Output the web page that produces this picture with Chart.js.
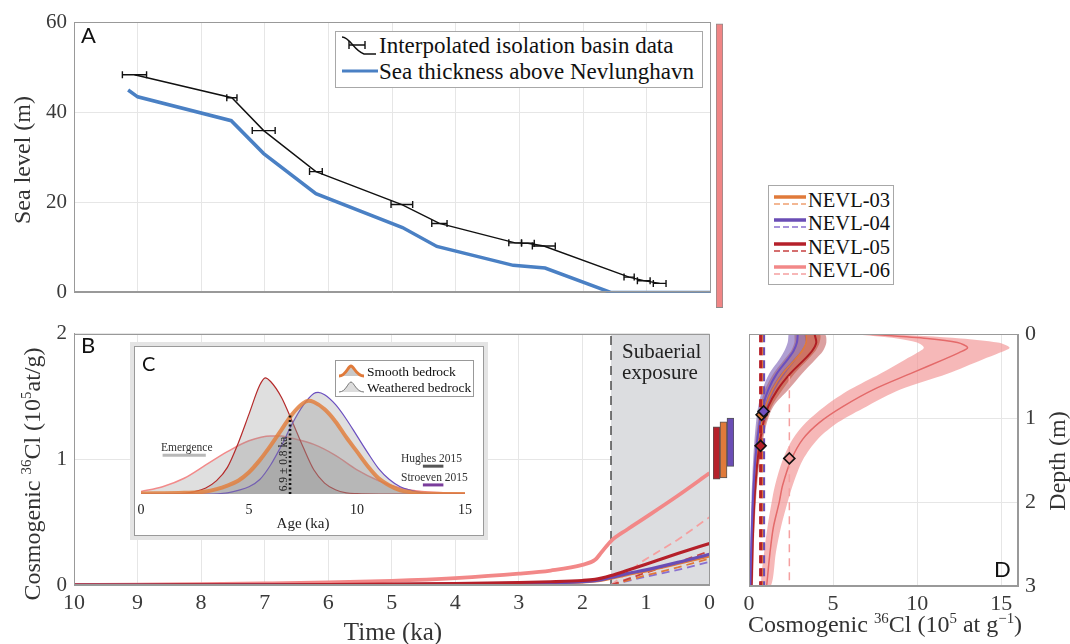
<!DOCTYPE html>
<html>
<head>
<meta charset="utf-8">
<script src="https://cdn.jsdelivr.net/npm/chart.js@4.4.1/dist/chart.umd.min.js"></script>
<style>
body { margin: 0; background: #fff; }
#wrap { position: relative; width: 1070px; height: 644px; overflow: hidden; background: #fff;
        font-family: "Liberation Serif", "DejaVu Serif", serif; color: #333; }
canvas { position: absolute; }
.lbl { position: absolute; font-family: Lato, "Open Sans", sans-serif; color: #111; line-height: 1; }
.t { position: absolute; white-space: nowrap; line-height: 1; font-family: "Liberation Serif", serif; }
.mid { transform: translate(-50%, -50%); }
.rot { transform: translate(-50%, -50%) rotate(-90deg); }
.t sup { font-size: 0.62em; vertical-align: 0.6em; line-height: 0; }
.legend { position: absolute; background: #fff; border: 1px solid #a8a8a8; box-sizing: border-box; }
.row { position: absolute; white-space: nowrap; line-height: 1; color: #111; font-family: "Liberation Serif", serif; }
.row svg { position: absolute; }
#insetFrame { position: absolute; left: 134px; top: 346px; width: 350px; height: 190px; box-sizing: border-box;
              border: 1px solid #9a9a9a; background: #fff; box-shadow: 0 0 0 4px #e4e4e4; }
</style>
</head>
<body>
<div id="wrap">
  <canvas id="chartA" width="716" height="312" style="left:0;top:0"></canvas>
  <canvas id="barA" width="7" height="312" style="left:716px;top:0"></canvas>
  <canvas id="chartB" width="720" height="330" style="left:0;top:314px"></canvas>
  <canvas id="barB" width="21" height="330" style="left:713px;top:314px"></canvas>
  <canvas id="chartD" width="335" height="330" style="left:735px;top:314px"></canvas>
  <div id="insetFrame"></div>
  <canvas id="chartC" width="348" height="188" style="left:135px;top:347px"></canvas>

  <!-- panel letters -->
  <div class="lbl" style="left:81px;top:24px;font-size:22px">A</div>
  <div class="lbl" style="left:81px;top:334px;font-size:22px">B</div>
  <div class="lbl" style="left:142px;top:353px;font-size:20px">C</div>
  <div class="lbl" style="left:994px;top:558px;font-size:22px">D</div>

  <!-- axis titles -->
  <div class="t rot" style="left:22px;top:160px;font-size:24px">Sea level (m)</div>
  <div class="t rot" style="left:32px;top:474px;font-size:24px">Cosmogenic <sup>36</sup>Cl (10<sup>5</sup>at/g)</div>
  <div class="t mid" style="left:393px;top:631px;font-size:25px">Time (ka)</div>
  <div class="t mid" style="left:885px;top:624px;font-size:24px">Cosmogenic <sup>36</sup>Cl (10<sup>5</sup> at g<sup>&minus;1</sup>)</div>
  <div class="t rot" style="left:1057px;top:461px;font-size:24px">Depth (m)</div>

  <div class="t" style="left:622px;top:341px;font-size:21px;line-height:21px;color:#222">Subaerial<br>exposure</div>

  <!-- inset texts -->
  <div class="t mid" style="left:303px;top:523px;font-size:15px;color:#222">Age (ka)</div>
  <div class="t rot" style="left:284px;top:464px;font-size:11.5px;color:#222">6.9 &plusmn; 0.8 ka</div>
  <div class="t" style="left:161px;top:442px;font-size:11.5px;color:#333">Emergence</div>
  <div class="t" style="left:401px;top:453px;font-size:11.5px;color:#333">Hughes 2015</div>
  <div class="t" style="left:401px;top:472px;font-size:11.5px;color:#333">Stroeven 2015</div>

  <!-- legend A -->
  <div class="legend" style="left:335px;top:31px;width:368px;height:57px">
    <div class="row" style="left:0;top:2px;height:24px;width:366px">
      <svg width="40" height="24" style="left:4px;top:0">
        <path d="M2 3 C 10 3, 14 17, 24 20 L 36 20" stroke="#111" stroke-width="1.4" fill="none"/>
        <path d="M9 11 H 25 M9 7 V 15 M25 7 V 15" stroke="#111" stroke-width="1.4" fill="none"/>
      </svg>
      <span style="position:absolute;left:43px;top:0px;font-size:23px">Interpolated isolation basin data</span>
    </div>
    <div class="row" style="left:0;top:28px;height:24px;width:366px">
      <svg width="40" height="24" style="left:4px;top:0"><path d="M2 11 H 38" stroke="#4a80c4" stroke-width="3"/></svg>
      <span style="position:absolute;left:43px;top:0px;font-size:23px">Sea thickness above Nevlunghavn</span>
    </div>
  </div>

  <!-- NEVL legend -->
  <div class="legend" style="left:768px;top:185px;width:126px;height:100px" id="nevlLegend"></div>

  <!-- inset legend -->
  <div class="legend" style="left:335px;top:360px;width:139px;height:37px;border-color:#999">
    <div class="row" style="left:0;top:2px">
      <svg width="30" height="16" style="left:2px;top:0">
        <path d="M1 13 C 8 13, 10 3, 13 3 C 16 3, 18 13, 26 13 Z" fill="#c8c8c8"/>
        <path d="M1 13 C 8 13, 10 3, 13 3 C 16 3, 18 13, 26 13" stroke="#e07a3a" stroke-width="3" fill="none"/>
      </svg>
      <span style="position:absolute;left:31px;top:2px;font-size:13.5px">Smooth&nbsp;bedrock</span>
    </div>
    <div class="row" style="left:0;top:18px">
      <svg width="30" height="16" style="left:2px;top:0">
        <path d="M1 13 C 8 13, 10 3, 13 3 C 16 3, 18 13, 26 13 Z" fill="#dcdcdc"/>
        <path d="M1 13 C 8 13, 10 3, 13 3 C 16 3, 18 13, 26 13" stroke="#777" stroke-width="1" fill="none"/>
      </svg>
      <span style="position:absolute;left:31px;top:2px;font-size:13.5px">Weathered&nbsp;bedrock</span>
    </div>
  </div>
</div>

<script>
// ============ DATA ============
// Panel A: sea level history (ka, m)
const basinAge   = [9.05, 7.52, 7.02, 6.2, 4.85, 4.26, 3.07, 2.87, 2.62, 1.28, 1.05, 0.8];
const basinLevel = [48.3, 43.2, 35.9, 26.8, 19.5, 15.3, 11.0, 10.9, 10.3, 3.4, 2.6, 2.0];
const basinErr   = [0.19, 0.08, 0.18, 0.1, 0.17, 0.12, 0.1, 0.1, 0.18, 0.08, 0.1, 0.1];
const blueAge    = [9.15, 9.0, 7.53, 7.02, 6.2, 4.84, 4.3, 3.1, 2.6, 1.57, 0];
const blueLevel  = [44.9, 43.4, 38.1, 30.8, 21.9, 14.4, 10.2, 6.0, 5.4, 0, 0];
const sideBarRange = [-1, 59.6];

// Panel B: 36Cl build-up through time (ka, 1e5 at/g)
const exposureStart = 1.55;
const timeB   = [10, 9, 8, 7, 6, 5, 4, 3, 2.5, 2, 1.8, 1.7, 1.55, 1.3, 1, 0.5, 0];
const pinkB   = [0, 0.002, 0.006, 0.012, 0.02, 0.033, 0.055, 0.09, 0.115, 0.16, 0.2, 0.26, 0.35, 0.44, 0.54, 0.71, 0.89];
const redB    = [0, 0, 0.001, 0.002, 0.004, 0.007, 0.012, 0.02, 0.026, 0.036, 0.045, 0.055, 0.075, 0.115, 0.165, 0.25, 0.33];
const purpleB = [0, 0, 0, 0.001, 0.002, 0.004, 0.008, 0.014, 0.019, 0.027, 0.035, 0.043, 0.06, 0.09, 0.12, 0.18, 0.245];
const orangeB = [0, 0, 0, 0.001, 0.002, 0.004, 0.007, 0.012, 0.017, 0.024, 0.031, 0.038, 0.053, 0.082, 0.112, 0.17, 0.23];
const timeDash      = [1.55, 1.05, 0.5, 0];
const pinkDashB     = [0, 0.19, 0.36, 0.54];
const redDashB      = [0, 0.09, 0.18, 0.27];
const orangeDashB   = [0, 0.07, 0.14, 0.21];
const purpleDashB   = [0, 0.06, 0.12, 0.185];
const sampleBarLo = [0.83, 0.84, 0.93];
const sampleBarHi = [1.24, 1.28, 1.31];

// Panel C: age probability curves (ka, relative)
const redAge    = [0, 1, 2, 2.5, 3, 3.5, 4, 4.5, 5, 5.5, 5.75, 6, 6.5, 7, 7.5, 8, 8.5, 9, 9.5, 10, 11, 15];
const redProb   = [0, 0, 0.005, 0.02, 0.05, 0.11, 0.22, 0.42, 0.66, 0.9, 0.96, 0.93, 0.8, 0.6, 0.39, 0.2, 0.09, 0.035, 0.01, 0.003, 0, 0];
const purpleAge  = [0, 3, 4, 4.5, 5, 5.5, 6, 6.5, 7, 7.5, 8, 8.2, 8.5, 9, 9.5, 10, 10.5, 11, 11.5, 12, 12.5, 13, 14, 15];
const purpleProb = [0, 0, 0.01, 0.03, 0.06, 0.12, 0.24, 0.4, 0.58, 0.73, 0.83, 0.84, 0.82, 0.74, 0.62, 0.48, 0.34, 0.21, 0.12, 0.06, 0.03, 0.01, 0, 0];
const orangeAge  = [0, 2, 3, 3.5, 4, 4.5, 5, 5.5, 6, 6.5, 7, 7.5, 7.75, 8, 8.5, 9, 9.5, 10, 10.5, 11, 11.5, 12, 12.5, 13, 15];
const orangeProb = [0.005, 0.01, 0.02, 0.04, 0.07, 0.11, 0.18, 0.28, 0.4, 0.53, 0.66, 0.75, 0.77, 0.76, 0.7, 0.6, 0.47, 0.35, 0.23, 0.13, 0.07, 0.03, 0.015, 0.005, 0];
const pinkAge  = [0, 1, 2, 3, 4, 5, 6, 6.5, 7, 8, 9, 10, 11, 12, 13, 14, 15];
const pinkProb = [0.02, 0.06, 0.13, 0.24, 0.35, 0.44, 0.48, 0.48, 0.46, 0.41, 0.32, 0.2, 0.11, 0.05, 0.02, 0.01, 0.005];
const meanAge = 6.9, meanAgeTop = 0.66;
const emergenceRange = [1.0, 3.0], emergenceY = 0.32;
const hughesRange = [13.05, 14.0], hughesY = 0.23;
const stroevenRange = [13.05, 14.0], stroevenY = 0.075;

// Panel D: depth profiles (depth m, 1e5 at/g)
const pinkDepth = [0, 0.05, 0.1, 0.16, 0.22, 0.3, 0.47, 0.66, 0.86, 1.05, 1.25, 1.5, 1.8, 2.0, 2.3, 2.6, 3.0];
const pinkLo    = [6.3, 8.8, 10.0, 10.4, 10.0, 9.3, 7.8, 6.0, 4.5, 3.4, 2.6, 2.0, 1.55, 1.35, 1.1, 0.9, 0.75];
const pinkMid   = [7.2, 10.6, 12.4, 13.0, 12.5, 11.6, 9.6, 7.4, 5.6, 4.2, 3.2, 2.5, 2.0, 1.8, 1.45, 1.25, 1.05];
const pinkHi    = [8.2, 12.6, 14.8, 15.5, 14.9, 13.9, 11.8, 9.0, 7.0, 5.3, 4.1, 3.2, 2.6, 2.3, 1.9, 1.6, 1.3];
const depthD    = [0, 0.1, 0.2, 0.3, 0.47, 0.66, 0.86, 1.05, 1.3, 1.6, 2.0, 2.5, 3.0];
const purpleLo  = [2.35, 2.3, 2.1, 1.8, 1.2, 0.8, 0.55, 0.42, 0.31, 0.22, 0.14, 0.08, 0.04];
const purpleMid = [2.9, 2.85, 2.65, 2.3, 1.65, 1.15, 0.82, 0.64, 0.47, 0.34, 0.23, 0.14, 0.08];
const purpleHi  = [3.4, 3.35, 3.15, 2.8, 2.15, 1.55, 1.12, 0.88, 0.65, 0.47, 0.32, 0.21, 0.13];
const redLo     = [3.3, 3.35, 3.1, 2.65, 1.9, 1.3, 0.9, 0.66, 0.5, 0.36, 0.24, 0.15, 0.1];
const redMid    = [3.9, 4.0, 3.75, 3.3, 2.45, 1.7, 1.15, 0.86, 0.64, 0.46, 0.32, 0.22, 0.16];
const redHi     = [4.5, 4.6, 4.4, 3.95, 3.15, 2.35, 1.45, 1.07, 0.8, 0.58, 0.41, 0.29, 0.22];
const orangeLo  = [2.7, 2.7, 2.5, 2.1, 1.45, 0.95, 0.68, 0.52, 0.38, 0.27, 0.18, 0.11, 0.06];
const orangeMid = [3.4, 3.4, 3.15, 2.75, 2.0, 1.4, 0.98, 0.75, 0.55, 0.4, 0.27, 0.18, 0.12];
const orangeHi  = [4.2, 4.2, 3.95, 3.5, 2.7, 2.0, 1.35, 1.0, 0.74, 0.54, 0.37, 0.25, 0.18];
// samples in order NEVL-03, 04, 05, 06
const sampleNames  = ['NEVL-03', 'NEVL-04', 'NEVL-05', 'NEVL-06'];
const measuredConc = [0.75, 0.87, 0.69, 2.4];
const sampleDepth  = [0.96, 0.92, 1.33, 1.48];
const dashTop      = [0, 0, 0, 0.5];

// ============ COLOURS ============
const C = {
  orange: '#e07a3a', purple: '#6a4db5', red: '#b5202a', pink: '#f28888',
  orangeDash: '#f0a070', purpleDash: '#8a70d0', redDash: '#c84040', pinkDash: '#f5a0a0'
};
const serif = '"Liberation Serif", "DejaVu Serif", serif';

Chart.defaults.font.family = serif;
Chart.defaults.color = '#3a3a3a';
Chart.defaults.animation = false;
Chart.defaults.plugins.legend.display = false;
Chart.defaults.plugins.tooltip.enabled = false;
Chart.defaults.elements.point.radius = 0;
Chart.defaults.elements.line.borderWidth = 2;

const zip = (xs, ys) => xs.map((x, i) => ({ x: x, y: ys[i] }));
const zipDepth = (xs, ds) => xs.map((x, i) => ({ x: x, y: ds[i] }));

// frame round the plot area (MATLAB box)
const framePlugin = {
  id: 'frame',
  afterDatasetsDraw(chart, args, opts) {
    const a = chart.chartArea, ctx = chart.ctx;
    ctx.save();
    ctx.strokeStyle = opts.color || '#999';
    ctx.lineWidth = 1;
    ctx.strokeRect(Math.round(a.left) + 0.5, Math.round(a.top) + 0.5, Math.round(a.width) - 1, Math.round(a.height) - 1);
    ctx.restore();
  }
};

const gridCol = '#e6e6e6';

// ============ PANEL A ============
const errPts = [];
basinAge.forEach((a, i) => {
  errPts.push({ x: a - basinErr[i], y: basinLevel[i] }, { x: a + basinErr[i], y: basinLevel[i] }, { x: NaN, y: NaN });
});

new Chart(document.getElementById('chartA'), {
  type: 'line',
  data: {
    datasets: [
      { data: errPts, borderColor: '#111', borderWidth: 1.4, pointStyle: 'line', pointRotation: 90,
        pointRadius: 3.5, pointBorderColor: '#111', pointBorderWidth: 1.4 },
      { data: zip(basinAge, basinLevel), borderColor: '#111', borderWidth: 1.4 },
      { data: zip(blueAge, blueLevel), borderColor: '#4a80c4', borderWidth: 3.5 }
    ]
  },
  options: {
    responsive: false,
    layout: { padding: { top: 22, right: 5 } },
    scales: {
      x: { type: 'linear', reverse: true, min: 0, max: 10,
           ticks: { display: false, stepSize: 1 },
           grid: { color: gridCol, drawTicks: false }, border: { color: '#999' },
           afterFit: s => { s.height = 9; } },
      y: { min: 0, max: 60,
           ticks: { stepSize: 20, padding: 7, font: { size: 21, family: serif } },
           grid: { color: gridCol, drawTicks: false }, border: { color: '#999' },
           afterFit: s => { s.width = 74; } }
    },
    plugins: { frame: { color: '#999' } }
  },
  plugins: [framePlugin]
});

new Chart(document.getElementById('barA'), {
  type: 'bar',
  data: { labels: [''], datasets: [{ data: [sideBarRange], backgroundColor: '#f08585', borderColor: '#8a8a8a',
          borderWidth: 1, borderSkipped: false, barPercentage: 1, categoryPercentage: 1, clip: false }] },
  options: {
    responsive: false,
    layout: { padding: { top: 22, bottom: 9 } },
    scales: { x: { display: false }, y: { display: false, min: 0, max: 60 } }
  }
});

// ============ PANEL B ============
const smooth = { cubicInterpolationMode: 'monotone' };
new Chart(document.getElementById('chartB'), {
  type: 'line',
  data: {
    datasets: [
      { data: zip(timeB, redB), borderColor: C.red, borderWidth: 3.2, ...smooth },
      { data: zip(timeB, purpleB), borderColor: C.purple, borderWidth: 3.2, ...smooth },
      { data: zip(timeB, orangeB), borderColor: C.orange, borderWidth: 3, ...smooth },
      { data: zip(timeDash, redDashB), borderColor: C.redDash, borderWidth: 1.8, borderDash: [8, 5] },
      { data: zip(timeDash, orangeDashB), borderColor: C.orange, borderWidth: 1.8, borderDash: [8, 5] },
      { data: zip(timeDash, purpleDashB), borderColor: C.purpleDash, borderWidth: 1.8, borderDash: [8, 5] },
      { data: zip(timeB, pinkB), borderColor: C.pink, borderWidth: 3.8, ...smooth },
      { data: zip(timeDash, pinkDashB), borderColor: C.pinkDash, borderWidth: 1.8, borderDash: [8, 5] },
      { data: [{ x: exposureStart, y: 0 }, { x: exposureStart, y: 2 }], borderColor: '#333', borderWidth: 1.3, borderDash: [9, 6] },
      { data: [{ x: exposureStart, y: 2 }, { x: 0, y: 2 }], borderWidth: 0, borderColor: 'rgba(0,0,0,0)',
        backgroundColor: '#dcdde0', fill: 'origin' }
    ]
  },
  options: {
    responsive: false,
    layout: { padding: { top: 16, right: 9 } },
    scales: {
      x: { type: 'linear', reverse: true, min: 0, max: 10,
           ticks: { stepSize: 1, padding: 5, font: { size: 22, family: serif } },
           grid: { color: gridCol, drawTicks: false }, border: { color: '#999' },
           afterFit: s => { s.height = 59; } },
      y: { min: 0, max: 2,
           ticks: { stepSize: 1, padding: 7, font: { size: 21, family: serif } },
           grid: { color: gridCol, drawTicks: false }, border: { color: '#999' },
           afterFit: s => { s.width = 74; } }
    },
    plugins: { frame: { color: '#999' } }
  },
  plugins: [framePlugin]
});

new Chart(document.getElementById('barB'), {
  type: 'bar',
  data: {
    labels: ['NEVL-05', 'NEVL-03', 'NEVL-04'],
    datasets: [{
      data: sampleBarLo.map((lo, i) => [lo, sampleBarHi[i]]),
      backgroundColor: [C.red, C.orange, C.purple], borderColor: '#555', borderWidth: 1,
      borderSkipped: false, barPercentage: 1, categoryPercentage: 1
    }]
  },
  options: {
    responsive: false,
    layout: { padding: { top: 16, bottom: 59 } },
    scales: { x: { display: false }, y: { display: false, min: 0, max: 2 } }
  }
});

// ============ PANEL C (inset) ============
const fillGray = 'rgba(140,140,140,0.28)';
new Chart(document.getElementById('chartC'), {
  type: 'line',
  data: {
    datasets: [
      { data: [{ x: meanAge, y: 0 }, { x: meanAge, y: meanAgeTop }], borderColor: '#111', borderWidth: 2.6, borderDash: [2, 2.5] },
      { data: [{ x: emergenceRange[0], y: emergenceY }, { x: emergenceRange[1], y: emergenceY }], borderColor: '#b8b8b8', borderWidth: 3 },
      { data: [{ x: hughesRange[0], y: hughesY }, { x: hughesRange[1], y: hughesY }], borderColor: '#555', borderWidth: 3 },
      { data: [{ x: stroevenRange[0], y: stroevenY }, { x: stroevenRange[1], y: stroevenY }], borderColor: '#7a3d9c', borderWidth: 3 },
      { data: zip(orangeAge, orangeProb), borderColor: 'rgba(226,128,64,0.85)', borderWidth: 4,
        fill: 'origin', backgroundColor: fillGray, ...smooth },
      { data: zip(purpleAge, purpleProb), borderColor: '#6b4fc0', borderWidth: 1.2,
        fill: 'origin', backgroundColor: fillGray, ...smooth },
      { data: zip(redAge, redProb), borderColor: '#b52a2a', borderWidth: 1.2,
        fill: 'origin', backgroundColor: fillGray, ...smooth },
      { data: zip(pinkAge, pinkProb), borderColor: '#f28a8a', borderWidth: 1.5,
        fill: 'origin', backgroundColor: fillGray, ...smooth }
    ]
  },
  options: {
    responsive: false,
    layout: { padding: { left: 6, right: 18, top: 26 } },
    scales: {
      x: { type: 'linear', min: 0, max: 15,
           ticks: { stepSize: 5, padding: 0, font: { size: 14, family: serif }, color: '#222' },
           grid: { display: false }, border: { display: false },
           afterFit: s => { s.height = 41; } },
      y: { display: false, min: 0, max: 1 }
    }
  }
});

// ============ PANEL D ============
const bandPoly = (depth, lo, hi) => {
  const pts = zipDepth(lo, depth);
  for (let i = depth.length - 1; i >= 0; i--) pts.push({ x: hi[i], y: depth[i] });
  pts.push({ x: lo[0], y: depth[0] });
  return pts;
};
const dashCols = [C.orange, C.purple, C.red, C.pinkDash];
const diamondCols = [C.orange, '#7050c0', C.red, '#f59a9a'];

const dDatasets = [];
// diamonds (top of the stack)
[1, 0, 2, 3].forEach(i => {
  dDatasets.push({ data: [{ x: measuredConc[i], y: sampleDepth[i] }], showLine: false, pointStyle: 'rectRot',
    pointRadius: 5.5, pointBackgroundColor: diamondCols[i], pointBorderColor: '#111', pointBorderWidth: 1.6 });
});
// measured concentration (dashed verticals)
[2, 0, 1, 3].forEach(i => {
  dDatasets.push({ data: [{ x: measuredConc[i], y: dashTop[i] }, { x: measuredConc[i], y: 3 }],
    borderColor: dashCols[i], borderWidth: i === 3 ? 1.5 : 3, borderDash: i === 3 ? [8, 6] : [8, 5] });
});
// centre lines
dDatasets.push({ data: zipDepth(purpleMid, depthD), borderColor: '#6a4fc0', borderWidth: 2, tension: 0.3 });
dDatasets.push({ data: zipDepth(redMid, depthD), borderColor: '#b01e24', borderWidth: 2, tension: 0.3 });
dDatasets.push({ data: zipDepth(orangeMid, depthD), borderColor: C.orange, borderWidth: 1.5, tension: 0.3 });
dDatasets.push({ data: zipDepth(pinkMid, pinkDepth), borderColor: '#e46a6a', borderWidth: 1.5, tension: 0.3 });
// uncertainty bands
dDatasets.push({ data: bandPoly(depthD, purpleLo, purpleHi), borderWidth: 0, borderColor: 'rgba(0,0,0,0)',
  fill: 'shape', backgroundColor: 'rgba(110,80,175,0.55)', tension: 0.3 });
dDatasets.push({ data: bandPoly(depthD, redLo, redHi), borderWidth: 0, borderColor: 'rgba(0,0,0,0)',
  fill: 'shape', backgroundColor: 'rgba(175,45,45,0.45)', tension: 0.3 });
dDatasets.push({ data: bandPoly(depthD, orangeLo, orangeHi), borderWidth: 0, borderColor: 'rgba(0,0,0,0)',
  fill: 'shape', backgroundColor: 'rgba(210,110,60,0.55)', tension: 0.3 });
dDatasets.push({ data: bandPoly(pinkDepth, pinkLo, pinkHi), borderWidth: 0, borderColor: 'rgba(0,0,0,0)',
  fill: 'shape', backgroundColor: 'rgba(240,140,140,0.62)', tension: 0.3 });

new Chart(document.getElementById('chartD'), {
  type: 'line',
  data: { datasets: dDatasets },
  options: {
    responsive: false,
    layout: { padding: { top: 16, left: 14 } },
    scales: {
      x: { type: 'linear', min: 0, max: 16,
           ticks: { stepSize: 5, includeBounds: false, padding: 5, font: { size: 22, family: serif } },
           grid: { color: gridCol, drawTicks: false }, border: { color: '#999' },
           afterFit: s => { s.height = 58; } },
      y: { position: 'right', reverse: true, min: 0, max: 3,
           ticks: { stepSize: 1, padding: 7, font: { size: 22, family: serif } },
           grid: { color: gridCol, drawTicks: false }, border: { color: '#999' },
           afterFit: s => { s.width = 52; } }
    },
    plugins: { frame: { color: '#999' } }
  },
  plugins: [framePlugin]
});

// ============ NEVL LEGEND ============
const legendSolid = [C.orange, C.purple, C.red, C.pink];
const legendDash  = [C.orangeDash, C.purpleDash, C.redDash, C.pinkDash];
const nevlLegend = document.getElementById('nevlLegend');
sampleNames.forEach((name, i) => {
  const row = document.createElement('div');
  row.className = 'row';
  row.style.left = '0px';
  row.style.top = (3 + i * 23.3) + 'px';
  row.innerHTML =
    '<svg width="36" height="22" style="left:4px;top:0">' +
    '<path d="M1 8 H 33" stroke="' + legendSolid[i] + '" stroke-width="3.5"/>' +
    '<path d="M1 15 H 33" stroke="' + legendDash[i] + '" stroke-width="1.6" stroke-dasharray="6 3"/></svg>' +
    '<span style="position:absolute;left:39px;top:1px;font-size:20.5px">' + name + '</span>';
  nevlLegend.appendChild(row);
});
</script>
</body>
</html>
